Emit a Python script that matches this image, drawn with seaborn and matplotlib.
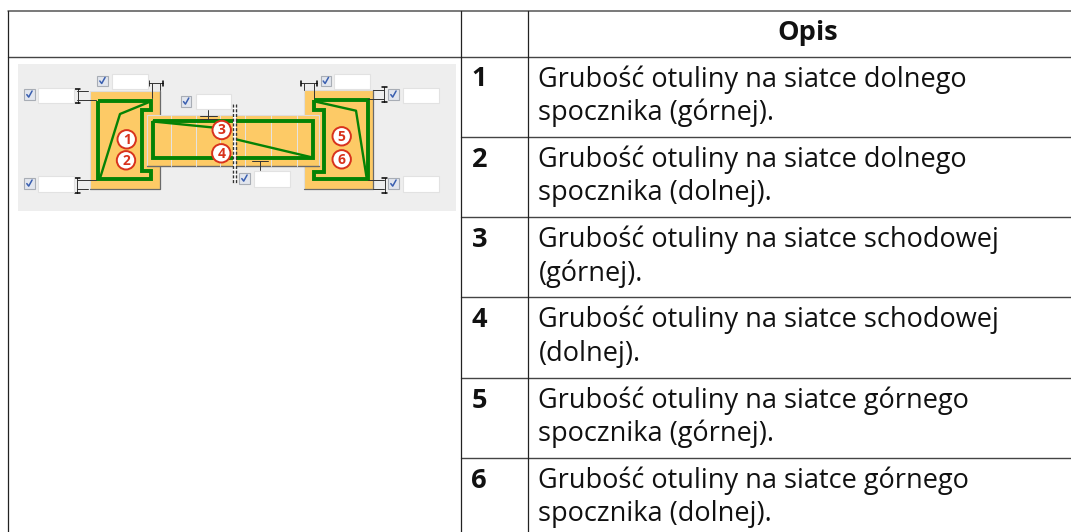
"""Tabela opisu otulin - odtworzenie rysunku ze schematem schodow."""

import matplotlib
matplotlib.use("Agg")
import matplotlib.pyplot as plt
from matplotlib.patches import Circle, Rectangle
import seaborn as sns

# tresc tabeli
header = "Opis"
row_numbers = ["1", "2", "3", "4", "5", "6"]
first_lines = [
    "Grubość otuliny na siatce dolnego",
    "Grubość otuliny na siatce dolnego",
    "Grubość otuliny na siatce schodowej",
    "Grubość otuliny na siatce schodowej",
    "Grubość otuliny na siatce górnego",
    "Grubość otuliny na siatce górnego",
]
second_lines = [
    "spocznika (górnej).",
    "spocznika (dolnej).",
    "(górnej).",
    "(dolnej).",
    "spocznika (górnej).",
    "spocznika (dolnej).",
]

# linie tabeli (piksele)
row_edges = [56.5, 136.8, 217.1, 297.4, 377.7, 458.0]
col_edges = [7.5, 460.5, 527.5]
top_edge = 11.0

# schemat: obrysy zbrojenia
left_x = [98.3, 151, 151, 141.7, 141.7, 151, 151, 98.3, 98.3]
left_y = [100.7, 100.7, 110, 110, 170.5, 170.5, 179.3, 179.3, 100.7]
left_thin_x = [100, 120, 150]
left_thin_y = [178.3, 114, 101.7]
stair_x = [152.7, 312.7, 312.7, 152.7, 152.7]
stair_y = [121, 121, 158.3, 158.3, 121]
stair_thin1_x = [153, 218]
stair_thin1_y = [121.5, 128]
stair_thin2_x = [236.7, 311.7]
stair_thin2_y = [139.5, 157.3]
right_x = [314.3, 367.7, 367.7, 314.3, 314.3, 324.3, 324.3, 314.3, 314.3]
right_y = [100, 100, 179.3, 179.3, 171.7, 171.7, 110, 110, 100]
right_thin_x = [316, 356, 366.7]
right_thin_y = [101.7, 110.7, 178.3]

stair_joints = [170.7, 195.5, 220, 245, 270.7, 296.5]

# znaczniki i pola wpisu: (x, y)
badges = [(126.7, 139.3), (126, 160.3), (221.7, 130), (221.3, 153.3), (341.7, 136.3), (341.7, 159.3)]
badge_labels = ["1", "2", "3", "4", "5", "6"]
checks = [(29.3, 94.3), (29.3, 183.3), (102.3, 80.7), (186, 101.3),
          (244.3, 178.3), (325.7, 80.7), (393.3, 94.3), (393.3, 183.3)]
inputs = [(38.3, 87.5), (38.3, 176), (112.3, 73.5), (195.7, 93.5),
          (254.3, 171), (334.3, 73.5), (403.3, 87.5), (403.3, 176)]

# wymiary: (x0, y0, x1, y1)
dim_lines = [
    (77.7, 88.5, 77.7, 102.5), (77, 90.7, 88, 90.7), (77, 99.7, 96, 99.7),
    (77, 177.5, 77, 192.5), (77, 180, 96, 180), (77, 189.3, 88, 189.3),
    (148.7, 83.3, 163.3, 83.3), (151.7, 83.3, 151.7, 98), (160, 83.3, 160, 90),
    (208.3, 110, 208.3, 119), (200, 115.7, 216.7, 115.7), (200, 119, 216.7, 119),
    (251.7, 160.7, 268.3, 160.7), (260, 160.7, 260, 170),
    (300.7, 83.3, 317.3, 83.3), (314, 83.3, 314, 98), (304, 83.3, 304, 90),
    (384, 86.7, 384, 101.7), (373, 90, 384, 90), (368, 99, 384, 99),
    (384.7, 177.5, 384.7, 192.5), (368, 180, 384, 180), (373, 189.3, 384, 189.3),
]
dim_caps = [
    (77.7, 88.5, "h"), (77.7, 102.5, "h"), (77, 177.5, "h"), (77, 192.5, "h"),
    (148.7, 83.3, "v"), (163.3, 83.3, "v"), (300.7, 83.3, "v"), (317.3, 83.3, "v"),
    (384, 86.7, "h"), (384, 101.7, "h"), (384.7, 177.5, "h"), (384.7, 192.5, "h"),
]

GREEN = "#058205"
ORANGE = "#fdca66"
EDGE = "#6a6a6a"
RED = "#d8321c"
TEXT_SIZE = 19.5


def line(ax, xs, ys, color="black", lw=0.75, zorder=3.2, **kws):
    sns.lineplot(x=xs, y=ys, sort=False, estimator=None, color=color, lw=lw,
                 ax=ax, legend=False, zorder=zorder, **kws)


def box(ax, x0, y0, x1, y1, face, zorder=2, edge="none", lw=0.0):
    ax.add_patch(Rectangle((x0, y0), x1 - x0, y1 - y0, facecolor=face,
                           edgecolor=edge, linewidth=lw, zorder=zorder))


def draw_table(ax):
    right = 1071
    line(ax, [col_edges[0], right], [top_edge, top_edge], color="#555555", lw=1.1)
    line(ax, [col_edges[0], right], [row_edges[0], row_edges[0]], color="#444444", lw=1.0)
    # pierwsza kolumna jest scalona, wiec reszta linii zaczyna sie od drugiej
    for y in row_edges[1:]:
        line(ax, [col_edges[1], right], [y, y], color="#444444", lw=1.0)
    for x in col_edges:
        line(ax, [x, x], [top_edge, 532], color="#222222", lw=0.9)

    ax.text(808, 40.5, header, fontsize=TEXT_SIZE, fontweight="bold", ha="center",
            va="baseline", color="#111111")
    for i, y in enumerate(row_edges):
        ax.text(471.5, y + 30, row_numbers[i], fontsize=TEXT_SIZE, fontweight="bold",
                va="baseline", color="#111111")
        ax.text(538.5, y + 30, first_lines[i], fontsize=TEXT_SIZE, va="baseline", color="#111111")
        ax.text(538.5, y + 63.5, second_lines[i], fontsize=TEXT_SIZE, va="baseline", color="#111111")


def draw_scheme(ax):
    box(ax, 18, 64, 456, 211, "#eeeeee", zorder=1)

    # spoczniki
    box(ax, 89.5, 90.5, 160, 189, ORANGE, zorder=2)
    box(ax, 304, 90, 373.3, 189, ORANGE, zorder=2)
    line(ax, [89.5, 89.5, 160], [189, 90.5, 90.5], color="#dddddd", lw=0.8, zorder=2.05)
    line(ax, [89.5, 160, 160], [189, 189, 90.5], color=EDGE, lw=0.9, zorder=2.05)
    line(ax, [304, 304, 373.3], [189, 90, 90], color="#dddddd", lw=0.8, zorder=2.05)
    line(ax, [304, 373.3, 373.3], [189, 189, 90], color=EDGE, lw=0.9, zorder=2.05)

    # zbrojenie spocznikow pod biegiem
    for xs, ys in [(left_x, left_y), (right_x, right_y)]:
        line(ax, xs, ys, color=GREEN, lw=2.8, zorder=2.07,
             solid_joinstyle="miter", solid_capstyle="butt")
    for xs, ys in [(left_thin_x, left_thin_y), (right_thin_x, right_thin_y)]:
        line(ax, xs, ys, color=GREEN, lw=1.7, zorder=2.07)

    # bieg schodowy
    box(ax, 146.7, 115, 319, 165.7, ORANGE, zorder=2.1)
    line(ax, [146.7, 146.7, 319, 319], [165.7, 115, 115, 165.7], color="#dddddd", lw=0.8, zorder=2.2)
    line(ax, [146.7, 319], [165.7, 165.7], color=EDGE, lw=1.0, zorder=2.2)
    for x in stair_joints:
        line(ax, [x, x], [115, 165.7], color="#e4e4e4", lw=0.7, zorder=2.2)

    line(ax, stair_x, stair_y, color=GREEN, lw=2.8, zorder=3,
         solid_joinstyle="miter", solid_capstyle="butt")
    for xs, ys in [(stair_thin1_x, stair_thin1_y), (stair_thin2_x, stair_thin2_y)]:
        line(ax, xs, ys, color=GREEN, lw=1.7, zorder=3)

    # przerwa biegu
    box(ax, 233.3, 104, 236.3, 183, "white", zorder=3.3)
    for x in [233.3, 236.3]:
        line(ax, [x, x], [104, 183], color="#333333", lw=1.0, zorder=3.4,
             linestyle=(0, (2.2, 1.2)))

    # wymiary
    for x0, y0, x1, y1 in dim_lines:
        line(ax, [x0, x1], [y0, y1], color="#333333", lw=0.7)
    for x, y, kind in dim_caps:
        if kind == "h":
            line(ax, [x - 2.5, x + 2.5], [y, y], color="black", lw=1.1)
        else:
            line(ax, [x, x], [y - 2.5, y + 2.5], color="black", lw=1.1)

    # pola wpisu
    for x, y in inputs:
        box(ax, x, y, x + 35.5, y + 15.5, "white", zorder=3.5, edge="#e2e2e2", lw=0.8)
    for x, y in checks:
        box(ax, x - 5.2, y - 5.2, x + 5.2, y + 5.2, "#e2e6ee", zorder=3.6, edge="#a8adb5", lw=0.8)
        line(ax, [x - 2.5, x - 0.6, x + 2.8], [y + 0.3, y + 2.8, y - 3.3], color="#3a5fb0", lw=1.1, zorder=3.7)

    # numery
    for (x, y), label in zip(badges, badge_labels):
        ax.add_patch(Circle((x, y), 9.2, facecolor="white", edgecolor=RED, linewidth=1.4, zorder=5))
        ax.text(x, y + 0.3, label, fontsize=10, fontweight="bold", color=RED,
                ha="center", va="center", zorder=6)


def main():
    sns.set_theme(style="white")
    plt.rcParams["font.family"] = ["Open Sans", "DejaVu Sans"]

    fig = plt.figure(figsize=(10.71, 5.32), dpi=100)
    ax = fig.add_axes([0, 0, 1, 1])
    draw_table(ax)
    draw_scheme(ax)
    ax.set_xlim(0, 1071)
    ax.set_ylim(532, 0)
    ax.axis("off")
    fig.savefig("out.png", dpi=100)
    plt.close(fig)


if __name__ == "__main__":
    main()
